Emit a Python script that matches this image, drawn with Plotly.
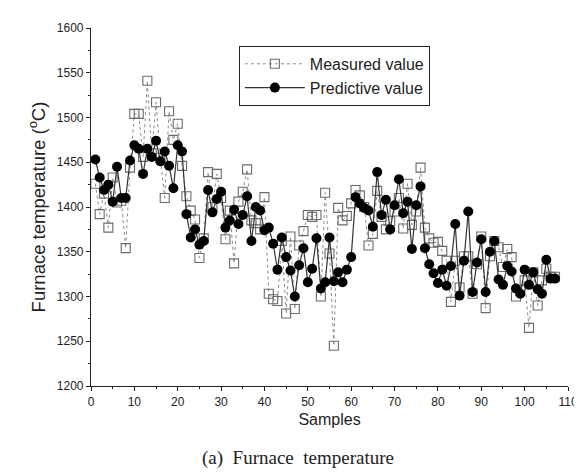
import plotly.graph_objects as go

samples = list(range(1, 108))

measured = [1426, 1392, 1415, 1377, 1433, 1405, 1407, 1354, 1444, 1504,
            1504, 1456, 1541, 1460, 1517, 1455, 1410, 1507, 1475, 1493,
            1446, 1412, 1396, 1386, 1343, 1365, 1439, 1400, 1437, 1410,
            1364, 1396, 1337, 1406, 1417, 1442, 1385, 1382, 1375, 1411,
            1303, 1297, 1295, 1362, 1281, 1367, 1286, 1357, 1373, 1391,
            1389, 1391, 1300, 1416, 1348, 1245, 1399, 1385, 1390, 1404,
            1419, 1413, 1400, 1357, 1370, 1418, 1389, 1375, 1384, 1395,
            1410, 1376, 1426, 1380, 1395, 1444, 1377, 1365, 1360, 1361,
            1351, 1340, 1294, 1340, 1310, 1345, 1345, 1303, 1336, 1367,
            1287, 1345, 1362, 1355, 1333, 1353, 1344, 1300, 1307, 1318,
            1265, 1327, 1290, 1318, 1331, 1322, 1322]

predicted = [1453, 1433, 1419, 1425, 1406, 1445, 1410, 1410, 1452, 1469,
             1465, 1437, 1465, 1456, 1474, 1451, 1462, 1446, 1421, 1469,
             1462, 1392, 1366, 1375, 1358, 1362, 1419, 1394, 1409, 1417,
             1377, 1385, 1397, 1381, 1391, 1412, 1362, 1400, 1396, 1374,
             1377, 1359, 1330, 1366, 1344, 1329, 1300, 1335, 1354, 1316,
             1331, 1365, 1309, 1316, 1366, 1317, 1327, 1316, 1330, 1344,
             1411, 1404, 1399, 1396, 1378, 1439, 1391, 1408, 1375, 1402,
             1431, 1393, 1406, 1353, 1402, 1423, 1354, 1336, 1326, 1315,
             1330, 1312, 1334, 1381, 1301, 1340, 1395, 1305, 1338, 1364,
             1305, 1350, 1362, 1319, 1313, 1334, 1328, 1309, 1303, 1330,
             1313, 1327, 1308, 1303, 1341, 1320, 1320]

x_ticks = [0, 10, 20, 30, 40, 50, 60, 70, 80, 90, 100, 110]
y_ticks = [1200, 1250, 1300, 1350, 1400, 1450, 1500, 1550, 1600]

fig = go.Figure()
fig.add_trace(go.Scatter(
    x=samples, y=measured, mode="lines+markers", name="Measured value",
    line=dict(color="#8a8a8a", width=1, dash="dot"),
    marker=dict(symbol="square-open", size=9, color="#6a6a6a", line=dict(width=1.1)),
))
fig.add_trace(go.Scatter(
    x=samples, y=predicted, mode="lines+markers", name="Predictive value",
    line=dict(color="#333333", width=1.2),
    marker=dict(symbol="circle", size=10, color="black"),
))

axis_font = dict(family="Liberation Sans, Arial, sans-serif", size=12, color="#222")
fig.update_layout(
    width=582, height=474,
    margin=dict(l=83, r=20, t=20, b=96),
    paper_bgcolor="white", plot_bgcolor="white",
    font=dict(family="Liberation Sans, Arial, sans-serif", color="#222"),
    showlegend=True,
    legend=dict(
        x=0.31, y=0.95, xanchor="left", yanchor="top",
        bordercolor="#222", borderwidth=1, bgcolor="white",
        font=dict(size=16, family="Liberation Sans, Arial, sans-serif", color="#222"),
        tracegroupgap=0, itemwidth=60,
    ),
    xaxis=dict(
        range=[0, 110], tickvals=x_ticks, ticktext=[str(v) for v in x_ticks],
        showgrid=False, zeroline=False, showline=True, linecolor="#222", linewidth=1.2,
        ticks="outside", ticklen=4, tickcolor="#222", tickfont=axis_font,
        minor=dict(dtick=5, ticks="outside", ticklen=2, tickcolor="#222"),
        title=dict(text="Samples", font=dict(size=16, color="#222"), standoff=6),
    ),
    yaxis=dict(
        range=[1200, 1600], tickvals=y_ticks, ticktext=[str(v) for v in y_ticks],
        showgrid=False, zeroline=False, showline=True, linecolor="#222", linewidth=1.2,
        ticks="outside", ticklen=4, tickcolor="#222", tickfont=axis_font,
        minor=dict(dtick=25, ticks="outside", ticklen=2, tickcolor="#222"),
        title=dict(text="Furnace temperature (<sup>o</sup>C)", font=dict(size=18.5, color="#222"), standoff=6),
    ),
    annotations=[dict(
        text="(a)  Furnace  temperature", xref="paper", yref="paper",
        x=0.435, y=-0.2, xanchor="center", yanchor="middle", showarrow=False,
        font=dict(family="Liberation Serif, Times New Roman, serif", size=19, color="#222"),
    )],
)

fig.write_html("out.html")
